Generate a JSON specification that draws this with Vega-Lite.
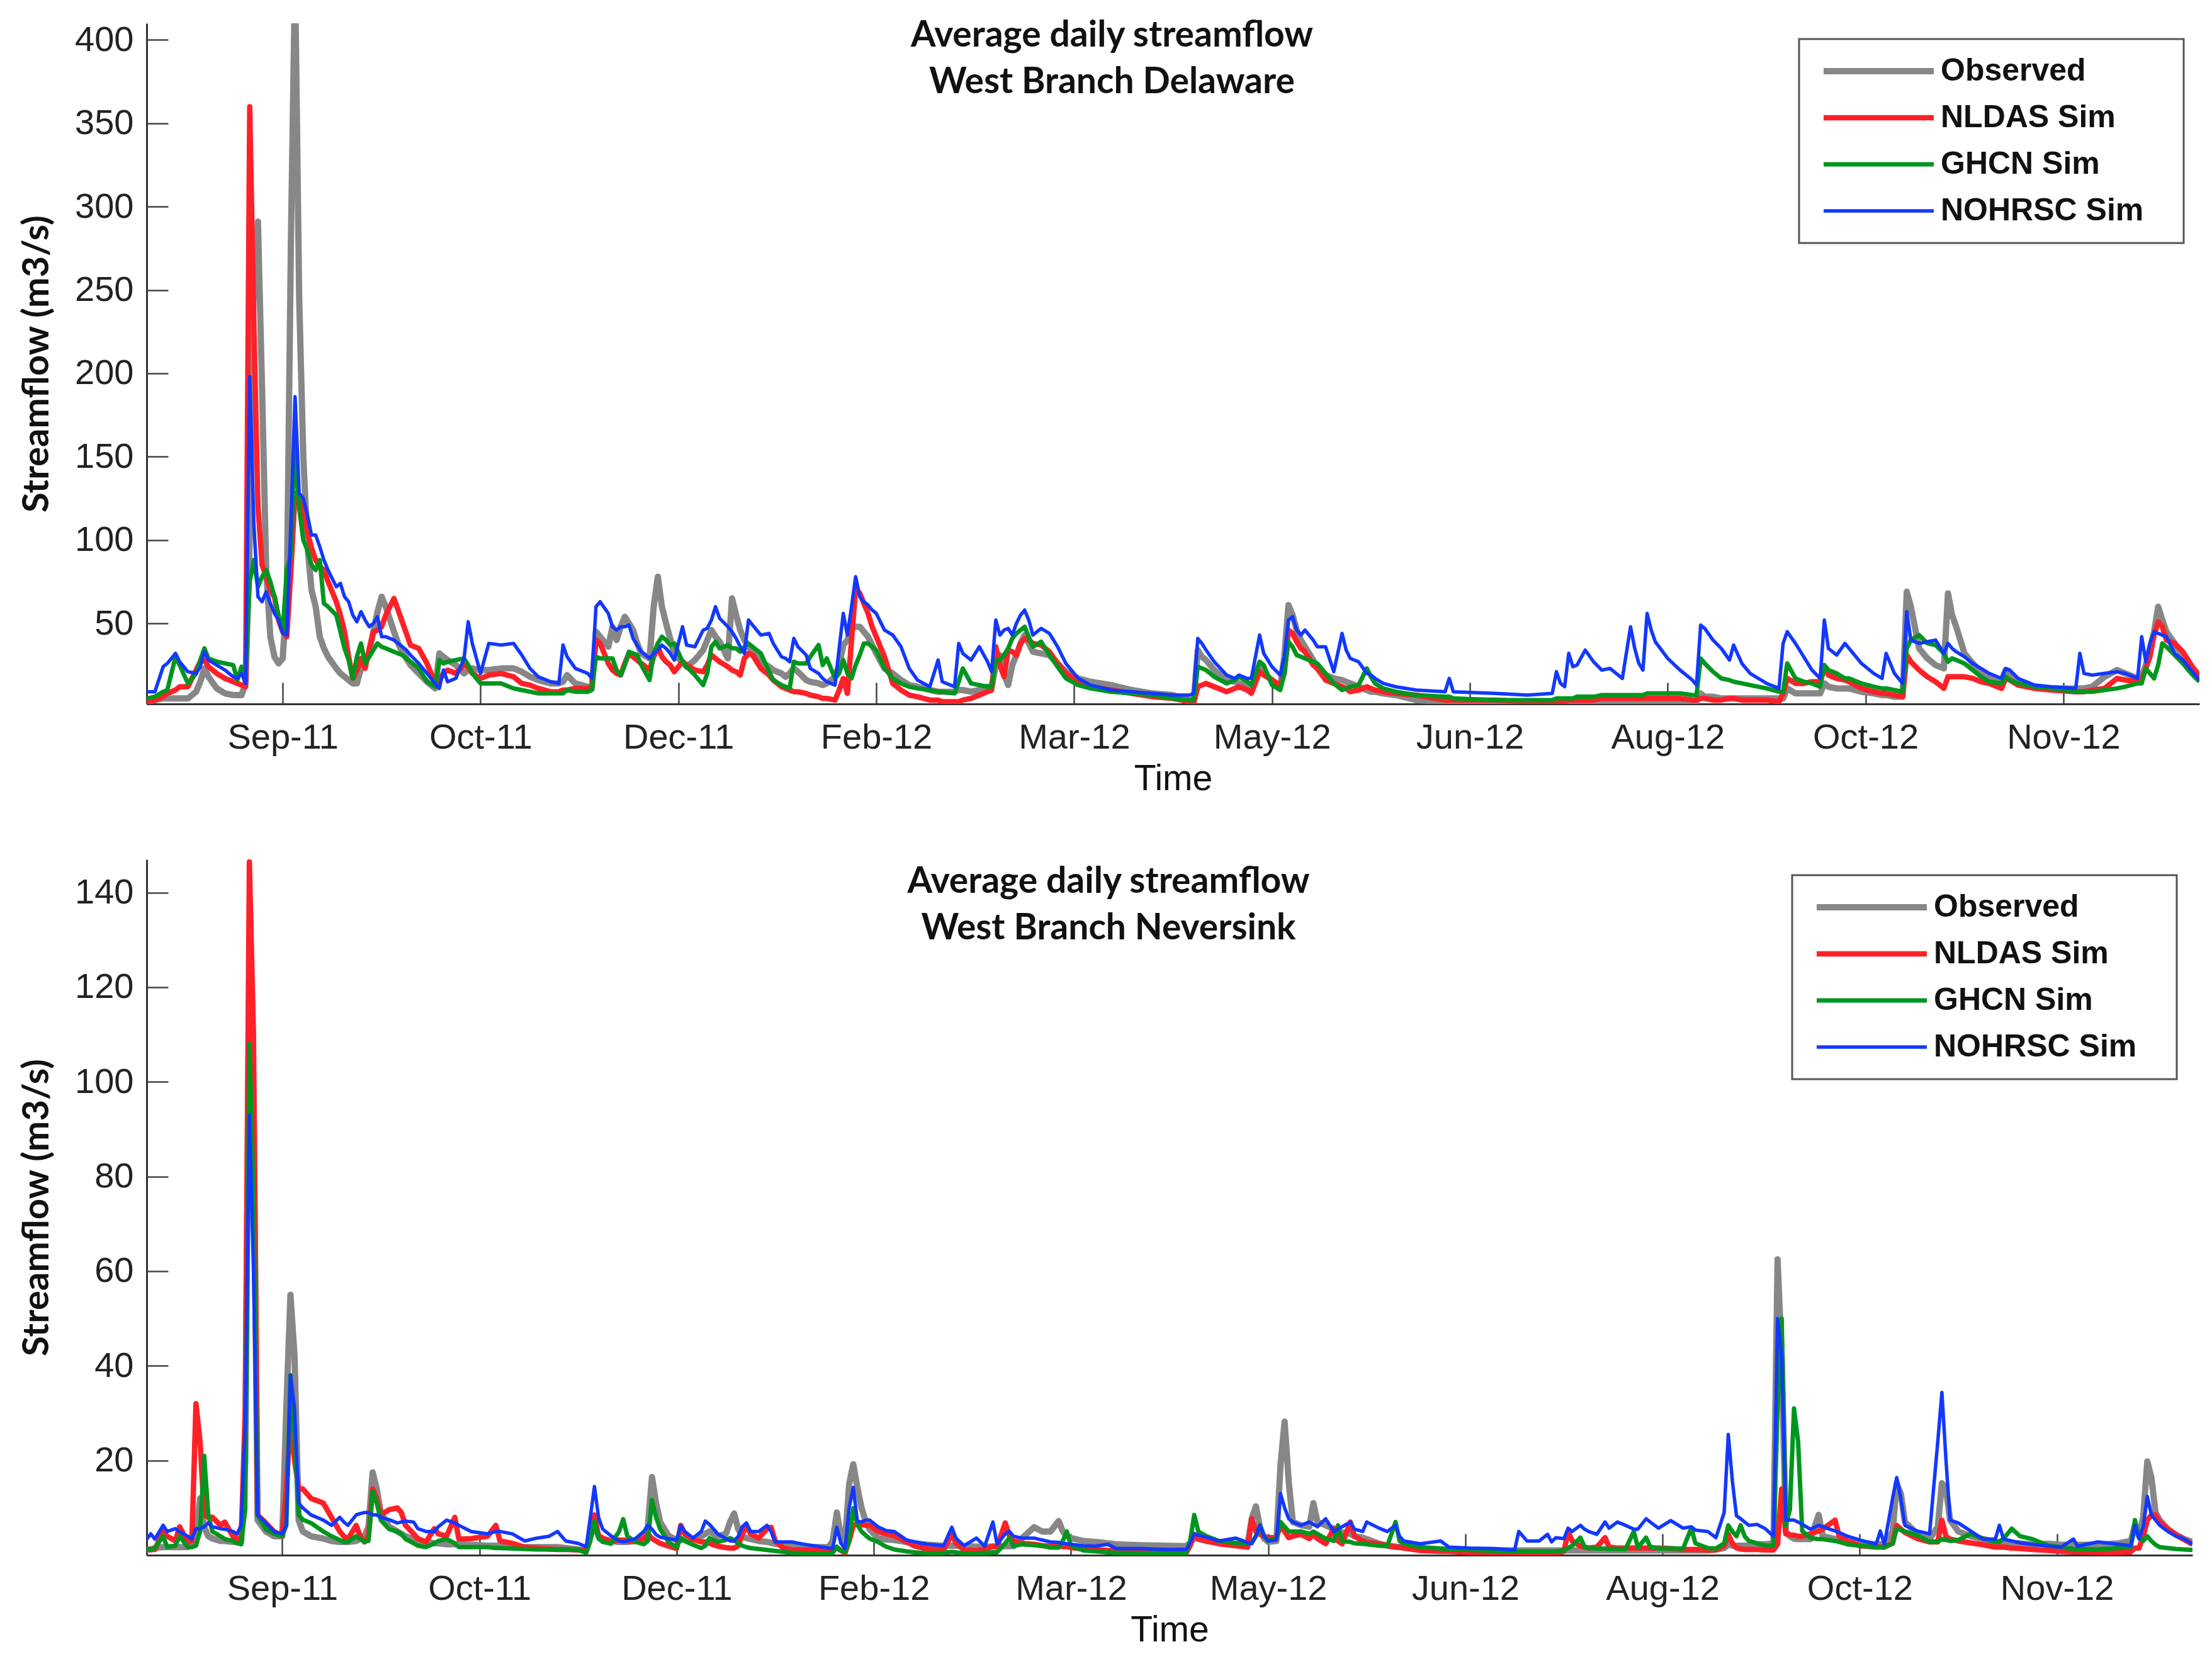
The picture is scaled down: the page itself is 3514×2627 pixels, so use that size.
{
"$schema":"https://vega.github.io/schema/vega-lite/v6.json",
"background":"white",
"padding":{"left":30,"top":28,"right":10,"bottom":5},
"spacing":100,
"config":{
 "view":{"stroke":null},
 "axis":{"grid":false,"domainColor":"#333","domainWidth":3,"tickColor":"#444","tickWidth":2.5,"tickSize":-34,"labelFont":"Liberation Sans","labelFontSize":56,"labelColor":"#222","titleColor":"#111","labelLimit":500},
 "legend":{"orient":"top-right","offset":25,"fillColor":"white","strokeColor":"#555","strokeWidth":3,"padding":26,"symbolOffset":8,"labelFont":"Liberation Sans","labelFontWeight":"bold","labelFontSize":50,"labelColor":"#111","symbolType":"stroke","symbolSize":30625,"symbolStrokeWidth":5.5,"rowPadding":24,"labelOffset":6,"clipHeight":50,"labelLimit":900},
 "title":{"font":"Lato","fontWeight":"bold","fontSize":57,"lineHeight":74,"color":"#111","anchor":"middle","frame":"group","baseline":"top","dx":-97},
 "line":{"clip":true,"strokeJoin":"round"}
},
"resolve":{"scale":{"color":"independent","strokeWidth":"independent","x":"independent","y":"independent"},"legend":{"color":"independent"}},
"datasets":{
"top":[
{"d":"2011-08-11","o":3,"n":3,"g":5,"h":9},
{"d":"2011-08-13","o":4,"n":4,"g":6,"h":9},
{"d":"2011-08-15","o":5,"n":6,"g":9,"h":24},
{"d":"2011-08-16","o":5,"n":8,"g":10,"h":26},
{"d":"2011-08-18","o":5,"n":10,"g":30,"h":32},
{"d":"2011-08-19","o":5,"n":12,"g":25,"h":27},
{"d":"2011-08-21","o":5,"n":12,"g":14,"h":21},
{"d":"2011-08-23","o":9,"n":22,"g":20,"h":20},
{"d":"2011-08-24","o":15,"n":27,"g":28,"h":24},
{"d":"2011-08-25","o":23,"n":28,"g":35,"h":33},
{"d":"2011-08-26","o":18,"n":24,"g":29,"h":28},
{"d":"2011-08-28","o":11,"n":20,"g":27,"h":25},
{"d":"2011-08-30","o":8,"n":17,"g":26,"h":22},
{"d":"2011-09-01","o":7,"n":15,"g":25,"h":18},
{"d":"2011-09-02","o":7,"n":14,"g":16,"h":17},
{"d":"2011-09-03","o":7,"n":13,"g":24,"h":20},
{"d":"2011-09-04","o":14,"n":12,"g":20,"h":14},
{"d":"2011-09-05","o":100,"n":360,"g":75,"h":198},
{"d":"2011-09-06","o":260,"n":230,"g":88,"h":110},
{"d":"2011-09-07","o":291,"n":120,"g":72,"h":66},
{"d":"2011-09-08","o":190,"n":85,"g":78,"h":63},
{"d":"2011-09-09","o":82,"n":78,"g":82,"h":69},
{"d":"2011-09-10","o":42,"n":70,"g":75,"h":62},
{"d":"2011-09-11","o":30,"n":66,"g":66,"h":56},
{"d":"2011-09-12","o":26,"n":52,"g":55,"h":52},
{"d":"2011-09-13","o":29,"n":45,"g":45,"h":44},
{"d":"2011-09-14","o":66,"n":42,"g":82,"h":43},
{"d":"2011-09-15","o":280,"n":82,"g":91,"h":110},
{"d":"2011-09-16","o":440,"n":128,"g":159,"h":186},
{"d":"2011-09-17","o":245,"n":125,"g":119,"h":128},
{"d":"2011-09-18","o":150,"n":118,"g":100,"h":125},
{"d":"2011-09-19","o":97,"n":105,"g":94,"h":115},
{"d":"2011-09-20","o":70,"n":95,"g":85,"h":103},
{"d":"2011-09-21","o":60,"n":88,"g":82,"h":103},
{"d":"2011-09-22","o":42,"n":84,"g":88,"h":96},
{"d":"2011-09-23","o":35,"n":82,"g":62,"h":88},
{"d":"2011-09-24","o":30,"n":75,"g":60,"h":82},
{"d":"2011-09-26","o":23,"n":63,"g":55,"h":72},
{"d":"2011-09-27","o":20,"n":55,"g":45,"h":74},
{"d":"2011-09-28","o":18,"n":45,"g":35,"h":66},
{"d":"2011-09-29","o":16,"n":30,"g":28,"h":63},
{"d":"2011-09-30","o":14,"n":17,"g":17,"h":55},
{"d":"2011-10-01","o":14,"n":22,"g":30,"h":51},
{"d":"2011-10-02","o":23,"n":29,"g":38,"h":57},
{"d":"2011-10-03","o":28,"n":23,"g":26,"h":52},
{"d":"2011-10-04","o":32,"n":35,"g":30,"h":48},
{"d":"2011-10-05","o":45,"n":45,"g":34,"h":50},
{"d":"2011-10-06","o":57,"n":46,"g":38,"h":54},
{"d":"2011-10-07","o":66,"n":48,"g":36,"h":42},
{"d":"2011-10-08","o":60,"n":55,"g":35,"h":42},
{"d":"2011-10-10","o":45,"n":65,"g":33,"h":40},
{"d":"2011-10-11","o":38,"n":58,"g":32,"h":38},
{"d":"2011-10-12","o":33,"n":51,"g":31,"h":36},
{"d":"2011-10-13","o":29,"n":44,"g":29,"h":34},
{"d":"2011-10-14","o":25,"n":37,"g":27,"h":31},
{"d":"2011-10-16","o":20,"n":35,"g":23,"h":26},
{"d":"2011-10-18","o":15,"n":26,"g":15,"h":20},
{"d":"2011-10-20","o":11,"n":14,"g":12,"h":14},
{"d":"2011-10-21","o":32,"n":16,"g":28,"h":11},
{"d":"2011-10-22","o":30,"n":20,"g":26,"h":22},
{"d":"2011-10-23","o":28,"n":22,"g":27,"h":15},
{"d":"2011-10-25","o":25,"n":20,"g":28,"h":17},
{"d":"2011-10-27","o":20,"n":25,"g":29,"h":29},
{"d":"2011-10-28","o":22,"n":24,"g":25,"h":51},
{"d":"2011-10-29","o":23,"n":20,"g":20,"h":38},
{"d":"2011-10-31","o":22,"n":17,"g":14,"h":20},
{"d":"2011-11-02","o":22,"n":19,"g":14,"h":38},
{"d":"2011-11-05","o":23,"n":20,"g":14,"h":37},
{"d":"2011-11-08","o":23,"n":18,"g":11,"h":38},
{"d":"2011-11-10","o":21,"n":14,"g":10,"h":31},
{"d":"2011-11-12","o":18,"n":13,"g":9,"h":23},
{"d":"2011-11-14","o":16,"n":11,"g":8,"h":18},
{"d":"2011-11-17","o":14,"n":9,"g":8,"h":15},
{"d":"2011-11-19","o":14,"n":9,"g":8,"h":14},
{"d":"2011-11-20","o":15,"n":10,"g":8,"h":37},
{"d":"2011-11-21","o":19,"n":10,"g":10,"h":30},
{"d":"2011-11-23","o":14,"n":11,"g":9,"h":23},
{"d":"2011-11-26","o":12,"n":11,"g":9,"h":20},
{"d":"2011-11-27","o":11,"n":12,"g":10,"h":17},
{"d":"2011-11-28","o":45,"n":40,"g":30,"h":60},
{"d":"2011-11-29","o":42,"n":38,"g":29,"h":63},
{"d":"2011-12-01","o":36,"n":26,"g":29,"h":56},
{"d":"2011-12-02","o":48,"n":22,"g":29,"h":48},
{"d":"2011-12-03","o":40,"n":20,"g":22,"h":46},
{"d":"2011-12-04","o":48,"n":19,"g":19,"h":48},
{"d":"2011-12-05","o":54,"n":26,"g":25,"h":48},
{"d":"2011-12-06","o":50,"n":32,"g":33,"h":49},
{"d":"2011-12-07","o":46,"n":30,"g":32,"h":41},
{"d":"2011-12-08","o":38,"n":28,"g":31,"h":37},
{"d":"2011-12-09","o":32,"n":26,"g":25,"h":33},
{"d":"2011-12-11","o":29,"n":22,"g":16,"h":29},
{"d":"2011-12-12","o":60,"n":30,"g":32,"h":32},
{"d":"2011-12-13","o":78,"n":36,"g":38,"h":34},
{"d":"2011-12-14","o":60,"n":30,"g":42,"h":37},
{"d":"2011-12-15","o":50,"n":27,"g":40,"h":35},
{"d":"2011-12-16","o":41,"n":25,"g":37,"h":32},
{"d":"2011-12-17","o":31,"n":21,"g":38,"h":28},
{"d":"2011-12-19","o":27,"n":27,"g":27,"h":48},
{"d":"2011-12-20","o":24,"n":25,"g":24,"h":37},
{"d":"2011-12-22","o":28,"n":22,"g":19,"h":36},
{"d":"2011-12-24","o":34,"n":21,"g":13,"h":46},
{"d":"2011-12-25","o":40,"n":25,"g":20,"h":47},
{"d":"2011-12-26","o":46,"n":31,"g":36,"h":52},
{"d":"2011-12-27","o":42,"n":29,"g":39,"h":60},
{"d":"2011-12-28","o":39,"n":27,"g":35,"h":53},
{"d":"2011-12-30","o":29,"n":24,"g":37,"h":48},
{"d":"2011-12-31","o":65,"n":22,"g":35,"h":45},
{"d":"2012-01-01","o":55,"n":21,"g":35,"h":41},
{"d":"2012-01-02","o":46,"n":19,"g":33,"h":36},
{"d":"2012-01-03","o":40,"n":29,"g":36,"h":32},
{"d":"2012-01-04","o":36,"n":32,"g":38,"h":52},
{"d":"2012-01-05","o":33,"n":31,"g":36,"h":49},
{"d":"2012-01-07","o":27,"n":23,"g":32,"h":43},
{"d":"2012-01-09","o":24,"n":19,"g":21,"h":44},
{"d":"2012-01-10","o":22,"n":16,"g":16,"h":38},
{"d":"2012-01-12","o":20,"n":12,"g":13,"h":30},
{"d":"2012-01-13","o":18,"n":11,"g":12,"h":29},
{"d":"2012-01-14","o":20,"n":10,"g":11,"h":27},
{"d":"2012-01-15","o":23,"n":9,"g":27,"h":41},
{"d":"2012-01-16","o":21,"n":9,"g":26,"h":36},
{"d":"2012-01-18","o":16,"n":8,"g":26,"h":31},
{"d":"2012-01-19","o":15,"n":7,"g":30,"h":23},
{"d":"2012-01-21","o":14,"n":6,"g":37,"h":20},
{"d":"2012-01-22","o":13,"n":5,"g":25,"h":17},
{"d":"2012-01-23","o":14,"n":5,"g":29,"h":15},
{"d":"2012-01-25","o":18,"n":4,"g":17,"h":13},
{"d":"2012-01-26","o":25,"n":10,"g":20,"h":35},
{"d":"2012-01-27","o":37,"n":17,"g":28,"h":56},
{"d":"2012-01-28","o":40,"n":8,"g":20,"h":43},
{"d":"2012-01-29","o":47,"n":40,"g":17,"h":60},
{"d":"2012-01-30","o":48,"n":71,"g":25,"h":78},
{"d":"2012-01-31","o":48,"n":68,"g":31,"h":66},
{"d":"2012-02-01","o":45,"n":62,"g":38,"h":63},
{"d":"2012-02-02","o":42,"n":56,"g":38,"h":61},
{"d":"2012-02-03","o":37,"n":48,"g":36,"h":58},
{"d":"2012-02-04","o":32,"n":42,"g":34,"h":56},
{"d":"2012-02-06","o":23,"n":30,"g":23,"h":46},
{"d":"2012-02-08","o":20,"n":14,"g":17,"h":43},
{"d":"2012-02-10","o":16,"n":10,"g":14,"h":36},
{"d":"2012-02-12","o":13,"n":7,"g":12,"h":23},
{"d":"2012-02-14","o":12,"n":6,"g":11,"h":16},
{"d":"2012-02-17","o":10,"n":4,"g":10,"h":12},
{"d":"2012-02-19","o":9,"n":4,"g":9,"h":28},
{"d":"2012-02-20","o":9,"n":3,"g":9,"h":15},
{"d":"2012-02-23","o":9,"n":3,"g":8,"h":12},
{"d":"2012-02-24","o":10,"n":3,"g":15,"h":38},
{"d":"2012-02-25","o":10,"n":4,"g":23,"h":32},
{"d":"2012-02-27","o":9,"n":5,"g":14,"h":28},
{"d":"2012-02-29","o":10,"n":7,"g":13,"h":36},
{"d":"2012-03-02","o":12,"n":9,"g":12,"h":27},
{"d":"2012-03-03","o":12,"n":10,"g":12,"h":21},
{"d":"2012-03-04","o":25,"n":36,"g":28,"h":52},
{"d":"2012-03-05","o":31,"n":25,"g":28,"h":43},
{"d":"2012-03-06","o":20,"n":18,"g":31,"h":46},
{"d":"2012-03-07","o":13,"n":34,"g":35,"h":47},
{"d":"2012-03-08","o":25,"n":33,"g":41,"h":43},
{"d":"2012-03-09","o":31,"n":31,"g":44,"h":50},
{"d":"2012-03-10","o":38,"n":38,"g":46,"h":55},
{"d":"2012-03-11","o":43,"n":41,"g":48,"h":58},
{"d":"2012-03-12","o":38,"n":40,"g":42,"h":52},
{"d":"2012-03-13","o":33,"n":38,"g":36,"h":43},
{"d":"2012-03-15","o":32,"n":37,"g":39,"h":47},
{"d":"2012-03-17","o":31,"n":33,"g":31,"h":44},
{"d":"2012-03-19","o":26,"n":26,"g":24,"h":36},
{"d":"2012-03-21","o":21,"n":20,"g":17,"h":26},
{"d":"2012-03-24","o":17,"n":15,"g":13,"h":17},
{"d":"2012-03-27","o":15,"n":12,"g":11,"h":13},
{"d":"2012-04-01","o":13,"n":10,"g":9,"h":10},
{"d":"2012-04-06","o":10,"n":8,"g":8,"h":9},
{"d":"2012-04-11","o":8,"n":6,"g":7,"h":8},
{"d":"2012-04-16","o":7,"n":5,"g":5,"h":7},
{"d":"2012-04-20","o":4,"n":3,"g":4,"h":7},
{"d":"2012-04-21","o":3,"n":2,"g":4,"h":8},
{"d":"2012-04-22","o":34,"n":12,"g":24,"h":41},
{"d":"2012-04-23","o":30,"n":13,"g":23,"h":38},
{"d":"2012-04-24","o":28,"n":14,"g":22,"h":34},
{"d":"2012-04-26","o":22,"n":12,"g":18,"h":27},
{"d":"2012-04-29","o":16,"n":9,"g":14,"h":19},
{"d":"2012-05-01","o":15,"n":11,"g":16,"h":17},
{"d":"2012-05-02","o":14,"n":12,"g":18,"h":19},
{"d":"2012-05-04","o":12,"n":10,"g":15,"h":17},
{"d":"2012-05-05","o":12,"n":8,"g":13,"h":17},
{"d":"2012-05-07","o":23,"n":21,"g":27,"h":43},
{"d":"2012-05-08","o":20,"n":19,"g":25,"h":32},
{"d":"2012-05-10","o":16,"n":16,"g":13,"h":24},
{"d":"2012-05-12","o":12,"n":13,"g":10,"h":19},
{"d":"2012-05-13","o":30,"n":20,"g":20,"h":30},
{"d":"2012-05-14","o":61,"n":46,"g":39,"h":52},
{"d":"2012-05-15","o":55,"n":44,"g":36,"h":54},
{"d":"2012-05-16","o":46,"n":39,"g":31,"h":46},
{"d":"2012-05-17","o":40,"n":35,"g":30,"h":43},
{"d":"2012-05-18","o":36,"n":33,"g":29,"h":46},
{"d":"2012-05-20","o":28,"n":25,"g":27,"h":40},
{"d":"2012-05-21","o":23,"n":23,"g":26,"h":36},
{"d":"2012-05-23","o":19,"n":16,"g":20,"h":36},
{"d":"2012-05-25","o":17,"n":14,"g":14,"h":21},
{"d":"2012-05-27","o":16,"n":12,"g":10,"h":44},
{"d":"2012-05-28","o":15,"n":11,"g":11,"h":34},
{"d":"2012-05-29","o":14,"n":9,"g":12,"h":29},
{"d":"2012-05-31","o":12,"n":10,"g":13,"h":27},
{"d":"2012-06-02","o":10,"n":12,"g":23,"h":20},
{"d":"2012-06-03","o":9,"n":11,"g":18,"h":19},
{"d":"2012-06-04","o":9,"n":10,"g":14,"h":17},
{"d":"2012-06-06","o":8,"n":9,"g":11,"h":14},
{"d":"2012-06-09","o":7,"n":8,"g":9,"h":12},
{"d":"2012-06-14","o":4,"n":7,"g":7,"h":10},
{"d":"2012-06-21","o":3,"n":4,"g":6,"h":9},
{"d":"2012-06-22","o":3,"n":4,"g":6,"h":17},
{"d":"2012-06-23","o":2,"n":4,"g":5,"h":9},
{"d":"2012-07-03","o":2,"n":4,"g":4,"h":8},
{"d":"2012-07-11","o":2,"n":3,"g":4,"h":7},
{"d":"2012-07-17","o":2,"n":3,"g":4,"h":8},
{"d":"2012-07-18","o":2,"n":3,"g":5,"h":21},
{"d":"2012-07-19","o":2,"n":3,"g":5,"h":14},
{"d":"2012-07-20","o":2,"n":3,"g":5,"h":12},
{"d":"2012-07-21","o":3,"n":4,"g":5,"h":32},
{"d":"2012-07-22","o":3,"n":4,"g":5,"h":24},
{"d":"2012-07-23","o":3,"n":4,"g":6,"h":25},
{"d":"2012-07-25","o":3,"n":4,"g":6,"h":34},
{"d":"2012-07-27","o":3,"n":4,"g":6,"h":27},
{"d":"2012-07-29","o":3,"n":5,"g":7,"h":22},
{"d":"2012-07-31","o":3,"n":5,"g":7,"h":23},
{"d":"2012-08-02","o":3,"n":5,"g":7,"h":19},
{"d":"2012-08-03","o":3,"n":5,"g":7,"h":17},
{"d":"2012-08-05","o":3,"n":5,"g":7,"h":48},
{"d":"2012-08-06","o":3,"n":5,"g":7,"h":35},
{"d":"2012-08-07","o":3,"n":5,"g":7,"h":26},
{"d":"2012-08-08","o":3,"n":5,"g":7,"h":22},
{"d":"2012-08-09","o":3,"n":5,"g":8,"h":56},
{"d":"2012-08-10","o":3,"n":5,"g":8,"h":46},
{"d":"2012-08-11","o":3,"n":5,"g":8,"h":39},
{"d":"2012-08-14","o":3,"n":5,"g":8,"h":29},
{"d":"2012-08-17","o":3,"n":5,"g":8,"h":22},
{"d":"2012-08-20","o":3,"n":4,"g":7,"h":16},
{"d":"2012-08-21","o":3,"n":4,"g":7,"h":13},
{"d":"2012-08-22","o":8,"n":5,"g":29,"h":49},
{"d":"2012-08-23","o":6,"n":5,"g":26,"h":47},
{"d":"2012-08-25","o":6,"n":4,"g":21,"h":40},
{"d":"2012-08-27","o":5,"n":4,"g":17,"h":35},
{"d":"2012-08-29","o":5,"n":5,"g":16,"h":28},
{"d":"2012-08-30","o":5,"n":5,"g":15,"h":37},
{"d":"2012-09-01","o":5,"n":4,"g":14,"h":26},
{"d":"2012-09-03","o":5,"n":4,"g":13,"h":20},
{"d":"2012-09-07","o":5,"n":4,"g":11,"h":14},
{"d":"2012-09-10","o":5,"n":3,"g":9,"h":11},
{"d":"2012-09-11","o":5,"n":8,"g":9,"h":38},
{"d":"2012-09-12","o":11,"n":17,"g":26,"h":45},
{"d":"2012-09-14","o":8,"n":14,"g":17,"h":38},
{"d":"2012-09-16","o":8,"n":14,"g":15,"h":30},
{"d":"2012-09-18","o":8,"n":15,"g":14,"h":22},
{"d":"2012-09-20","o":8,"n":15,"g":12,"h":17},
{"d":"2012-09-21","o":14,"n":23,"g":25,"h":52},
{"d":"2012-09-22","o":12,"n":19,"g":22,"h":35},
{"d":"2012-09-24","o":11,"n":17,"g":20,"h":31},
{"d":"2012-09-26","o":11,"n":16,"g":17,"h":38},
{"d":"2012-09-27","o":11,"n":15,"g":17,"h":35},
{"d":"2012-09-30","o":9,"n":11,"g":14,"h":26},
{"d":"2012-10-03","o":8,"n":9,"g":12,"h":20},
{"d":"2012-10-05","o":7,"n":8,"g":11,"h":17},
{"d":"2012-10-06","o":7,"n":8,"g":11,"h":32},
{"d":"2012-10-08","o":6,"n":7,"g":10,"h":20},
{"d":"2012-10-10","o":6,"n":6,"g":9,"h":14},
{"d":"2012-10-11","o":69,"n":31,"g":35,"h":57},
{"d":"2012-10-12","o":60,"n":27,"g":40,"h":40},
{"d":"2012-10-14","o":35,"n":22,"g":43,"h":38},
{"d":"2012-10-16","o":29,"n":18,"g":38,"h":39},
{"d":"2012-10-18","o":25,"n":15,"g":37,"h":40},
{"d":"2012-10-20","o":23,"n":11,"g":32,"h":32},
{"d":"2012-10-21","o":68,"n":18,"g":27,"h":38},
{"d":"2012-10-22","o":55,"n":18,"g":29,"h":35},
{"d":"2012-10-23","o":48,"n":18,"g":28,"h":33},
{"d":"2012-10-25","o":32,"n":18,"g":26,"h":30},
{"d":"2012-10-27","o":26,"n":17,"g":22,"h":26},
{"d":"2012-10-29","o":21,"n":15,"g":18,"h":23},
{"d":"2012-10-31","o":18,"n":14,"g":15,"h":20},
{"d":"2012-11-03","o":16,"n":11,"g":14,"h":17},
{"d":"2012-11-04","o":22,"n":17,"g":18,"h":23},
{"d":"2012-11-05","o":20,"n":16,"g":16,"h":22},
{"d":"2012-11-07","o":15,"n":13,"g":14,"h":17},
{"d":"2012-11-11","o":12,"n":11,"g":12,"h":13},
{"d":"2012-11-15","o":11,"n":10,"g":11,"h":12},
{"d":"2012-11-21","o":11,"n":9,"g":9,"h":11},
{"d":"2012-11-22","o":11,"n":9,"g":9,"h":32},
{"d":"2012-11-23","o":11,"n":9,"g":9,"h":20},
{"d":"2012-11-25","o":12,"n":10,"g":9,"h":19},
{"d":"2012-11-28","o":18,"n":11,"g":10,"h":20},
{"d":"2012-12-01","o":22,"n":17,"g":11,"h":21},
{"d":"2012-12-03","o":20,"n":16,"g":12,"h":20},
{"d":"2012-12-06","o":17,"n":15,"g":14,"h":17},
{"d":"2012-12-07","o":18,"n":16,"g":14,"h":42},
{"d":"2012-12-08","o":25,"n":23,"g":23,"h":27},
{"d":"2012-12-09","o":35,"n":30,"g":20,"h":38},
{"d":"2012-12-10","o":45,"n":43,"g":17,"h":45},
{"d":"2012-12-11","o":60,"n":51,"g":25,"h":44},
{"d":"2012-12-12","o":52,"n":48,"g":38,"h":43},
{"d":"2012-12-13","o":45,"n":40,"g":36,"h":42},
{"d":"2012-12-15","o":38,"n":38,"g":31,"h":32},
{"d":"2012-12-17","o":30,"n":33,"g":26,"h":28},
{"d":"2012-12-19","o":24,"n":25,"g":20,"h":22},
{"d":"2012-12-21","o":19,"n":18,"g":15,"h":16}
],
"bot":[
{"d":"2011-08-11","o":1.2,"n":1.2,"g":1.2,"h":3.4},
{"d":"2011-08-12","o":1.2,"n":1.2,"g":1.2,"h":4.5},
{"d":"2011-08-13","o":1.5,"n":1.2,"g":1.5,"h":3.4},
{"d":"2011-08-15","o":1.7,"n":5,"g":4,"h":6.3},
{"d":"2011-08-16","o":1.7,"n":4,"g":1.7,"h":5},
{"d":"2011-08-18","o":1.7,"n":3,"g":2,"h":5.6},
{"d":"2011-08-19","o":1.7,"n":6,"g":4,"h":5},
{"d":"2011-08-21","o":1.7,"n":2.8,"g":1.7,"h":4},
{"d":"2011-08-22","o":2.5,"n":3,"g":1.7,"h":3.4},
{"d":"2011-08-23","o":4,"n":32,"g":2,"h":5.6},
{"d":"2011-08-24","o":12,"n":24,"g":5,"h":5.6},
{"d":"2011-08-25","o":6,"n":8.5,"g":21,"h":6},
{"d":"2011-08-26","o":4,"n":8,"g":8.5,"h":6.8},
{"d":"2011-08-27","o":3.5,"n":8,"g":5,"h":6},
{"d":"2011-08-29","o":3,"n":6.3,"g":4,"h":5.6},
{"d":"2011-08-30","o":3,"n":7,"g":3.4,"h":5.5},
{"d":"2011-09-01","o":2.8,"n":4,"g":3,"h":5},
{"d":"2011-09-02","o":2.8,"n":3.5,"g":2.5,"h":4.5},
{"d":"2011-09-03","o":2.8,"n":3,"g":2.3,"h":6.3},
{"d":"2011-09-04","o":20,"n":31,"g":9.6,"h":28},
{"d":"2011-09-05","o":125,"n":146.5,"g":108,"h":93},
{"d":"2011-09-06","o":97,"n":110,"g":76,"h":60},
{"d":"2011-09-07","o":7.4,"n":8.5,"g":8.5,"h":8.5},
{"d":"2011-09-09","o":5,"n":6.8,"g":5.5,"h":6.8},
{"d":"2011-09-11","o":4,"n":5,"g":4.5,"h":5},
{"d":"2011-09-13","o":4,"n":4,"g":4,"h":4.5},
{"d":"2011-09-14","o":31,"n":14,"g":6.3,"h":6.3},
{"d":"2011-09-15","o":55,"n":29,"g":38,"h":38},
{"d":"2011-09-16","o":42,"n":20,"g":25,"h":31},
{"d":"2011-09-17","o":7.4,"n":14,"g":8.5,"h":11},
{"d":"2011-09-18","o":5,"n":14,"g":7.5,"h":10},
{"d":"2011-09-20","o":4,"n":12,"g":6.8,"h":8.5},
{"d":"2011-09-23","o":3.5,"n":11,"g":5,"h":7.4},
{"d":"2011-09-25","o":3,"n":8,"g":4,"h":6.3},
{"d":"2011-09-27","o":2.8,"n":5,"g":3.2,"h":8},
{"d":"2011-09-28","o":2.8,"n":4,"g":2.8,"h":7},
{"d":"2011-09-29","o":2.8,"n":3.4,"g":2.8,"h":6.3},
{"d":"2011-10-01","o":3,"n":6.3,"g":4,"h":8.5},
{"d":"2011-10-02","o":3.5,"n":4,"g":3.4,"h":8.8},
{"d":"2011-10-03","o":4,"n":2.8,"g":2.8,"h":9},
{"d":"2011-10-04","o":6,"n":4,"g":3,"h":9},
{"d":"2011-10-05","o":17.5,"n":14,"g":13.5,"h":8.5},
{"d":"2011-10-06","o":14,"n":12,"g":11,"h":8.5},
{"d":"2011-10-07","o":9,"n":8.5,"g":7.4,"h":8},
{"d":"2011-10-09","o":6,"n":9.6,"g":5.5,"h":7.5},
{"d":"2011-10-11","o":5,"n":10,"g":5,"h":6.8},
{"d":"2011-10-12","o":4.5,"n":9,"g":4.5,"h":7},
{"d":"2011-10-13","o":4,"n":6.3,"g":3.4,"h":7.2},
{"d":"2011-10-15","o":3.4,"n":4.5,"g":2.5,"h":7},
{"d":"2011-10-16","o":3,"n":3.5,"g":2,"h":5.6},
{"d":"2011-10-18","o":2.8,"n":2.8,"g":1.7,"h":5},
{"d":"2011-10-20","o":2.5,"n":5.6,"g":2.5,"h":5},
{"d":"2011-10-21","o":2.5,"n":4.5,"g":3,"h":6},
{"d":"2011-10-23","o":2.3,"n":4,"g":3.4,"h":7.4},
{"d":"2011-10-25","o":2.3,"n":8,"g":2.5,"h":6.8},
{"d":"2011-10-26","o":2.3,"n":3.4,"g":1.7,"h":6.3},
{"d":"2011-10-29","o":2.2,"n":3.5,"g":1.7,"h":5},
{"d":"2011-11-02","o":2,"n":4,"g":1.7,"h":4.5},
{"d":"2011-11-04","o":2,"n":6.3,"g":1.5,"h":5},
{"d":"2011-11-05","o":2,"n":3,"g":1.5,"h":5},
{"d":"2011-11-08","o":1.8,"n":2.5,"g":1.4,"h":4.5},
{"d":"2011-11-11","o":1.7,"n":1.7,"g":1.3,"h":3},
{"d":"2011-11-14","o":1.7,"n":1.5,"g":1.2,"h":3.6},
{"d":"2011-11-17","o":1.7,"n":1.3,"g":1.2,"h":4},
{"d":"2011-11-19","o":1.7,"n":1.2,"g":1.2,"h":5},
{"d":"2011-11-21","o":1.5,"n":1.2,"g":1.2,"h":3},
{"d":"2011-11-24","o":1.2,"n":1.1,"g":1.1,"h":2.5},
{"d":"2011-11-26","o":1,"n":1,"g":0.5,"h":1.8},
{"d":"2011-11-27","o":4,"n":4,"g":3,"h":8},
{"d":"2011-11-28","o":6.3,"n":8.5,"g":7.2,"h":14.5},
{"d":"2011-11-29","o":4,"n":4,"g":3.5,"h":8},
{"d":"2011-11-30","o":3.5,"n":3.6,"g":2.8,"h":5.5},
{"d":"2011-12-02","o":3,"n":2.8,"g":2.4,"h":4.1},
{"d":"2011-12-04","o":2.8,"n":3.2,"g":5,"h":3},
{"d":"2011-12-05","o":2.8,"n":3.2,"g":7.6,"h":2.8},
{"d":"2011-12-06","o":2.8,"n":3,"g":4,"h":3},
{"d":"2011-12-08","o":3,"n":2.9,"g":2.8,"h":3.5},
{"d":"2011-12-10","o":4,"n":3.5,"g":2.3,"h":5},
{"d":"2011-12-11","o":6,"n":4.5,"g":3,"h":6.3},
{"d":"2011-12-12","o":16.5,"n":3.5,"g":11.6,"h":5.5},
{"d":"2011-12-13","o":11,"n":3,"g":8,"h":4.3},
{"d":"2011-12-14","o":7,"n":2.5,"g":5.5,"h":3.8},
{"d":"2011-12-16","o":4.1,"n":1.9,"g":2.8,"h":3.5},
{"d":"2011-12-18","o":3.2,"n":1.4,"g":1.6,"h":3.2},
{"d":"2011-12-19","o":3.2,"n":6.3,"g":3.6,"h":6.3},
{"d":"2011-12-20","o":3.5,"n":4.5,"g":3,"h":5},
{"d":"2011-12-22","o":3.5,"n":3.3,"g":2.2,"h":3.6},
{"d":"2011-12-24","o":4,"n":2.8,"g":1.5,"h":5},
{"d":"2011-12-25","o":4.5,"n":2.8,"g":2,"h":7.2},
{"d":"2011-12-26","o":5,"n":2.5,"g":3.6,"h":6.5},
{"d":"2011-12-28","o":4,"n":1.9,"g":2.8,"h":4.5},
{"d":"2011-12-30","o":4.5,"n":1.6,"g":3.2,"h":3.5},
{"d":"2011-12-31","o":7,"n":1.5,"g":3.6,"h":3},
{"d":"2012-01-01","o":8.8,"n":1.5,"g":3.2,"h":3},
{"d":"2012-01-02","o":5.5,"n":2,"g":2.5,"h":4},
{"d":"2012-01-03","o":4,"n":4.5,"g":2,"h":6},
{"d":"2012-01-04","o":3.6,"n":6.3,"g":1.7,"h":6.8},
{"d":"2012-01-05","o":3.4,"n":4.5,"g":1.5,"h":5},
{"d":"2012-01-07","o":3,"n":3.6,"g":1.3,"h":5},
{"d":"2012-01-09","o":2.8,"n":5.6,"g":1.1,"h":6.3},
{"d":"2012-01-10","o":2.6,"n":5.9,"g":1,"h":5},
{"d":"2012-01-11","o":2.4,"n":3,"g":0.9,"h":2.8},
{"d":"2012-01-13","o":2.2,"n":1.5,"g":0.7,"h":2.8},
{"d":"2012-01-15","o":2,"n":1.1,"g":0.5,"h":2.8},
{"d":"2012-01-18","o":1.8,"n":1.1,"g":0.4,"h":2.3},
{"d":"2012-01-21","o":1.7,"n":1.1,"g":0.3,"h":1.9},
{"d":"2012-01-24","o":1.7,"n":1.1,"g":0.3,"h":1.5},
{"d":"2012-01-25","o":3,"n":1.2,"g":0.5,"h":1.4},
{"d":"2012-01-26","o":9,"n":1.5,"g":1.8,"h":5.9},
{"d":"2012-01-27","o":4,"n":1,"g":1,"h":2.5},
{"d":"2012-01-28","o":3,"n":0.5,"g":0.6,"h":1.4},
{"d":"2012-01-29","o":15,"n":3,"g":3,"h":10},
{"d":"2012-01-30","o":19.2,"n":6.3,"g":9.9,"h":14.3},
{"d":"2012-01-31","o":14.3,"n":6.5,"g":6.5,"h":7.2},
{"d":"2012-02-01","o":10,"n":6.4,"g":5,"h":7},
{"d":"2012-02-02","o":7.2,"n":6.3,"g":4.2,"h":7.4},
{"d":"2012-02-03","o":5.5,"n":6.3,"g":3.5,"h":7.4},
{"d":"2012-02-05","o":3.6,"n":5,"g":2.8,"h":6},
{"d":"2012-02-07","o":3.3,"n":4.5,"g":1.8,"h":5.2},
{"d":"2012-02-09","o":3.2,"n":4.1,"g":1.2,"h":5},
{"d":"2012-02-12","o":2.8,"n":2.8,"g":0.8,"h":3.2},
{"d":"2012-02-14","o":2.5,"n":1.9,"g":0.6,"h":2.8},
{"d":"2012-02-17","o":2.2,"n":1.3,"g":0.4,"h":2.3},
{"d":"2012-02-21","o":2,"n":1.1,"g":0.5,"h":2},
{"d":"2012-02-23","o":2,"n":4.5,"g":0.7,"h":5.9},
{"d":"2012-02-24","o":2,"n":2.5,"g":0.6,"h":3.6},
{"d":"2012-02-26","o":1.9,"n":1.1,"g":0.4,"h":2},
{"d":"2012-02-29","o":1.8,"n":1,"g":0.4,"h":3.6},
{"d":"2012-03-02","o":1.8,"n":1.2,"g":0.5,"h":1.9},
{"d":"2012-03-04","o":1.8,"n":1.9,"g":0.6,"h":7},
{"d":"2012-03-05","o":1.8,"n":1.7,"g":0.6,"h":2.3},
{"d":"2012-03-07","o":1.9,"n":6.8,"g":2.5,"h":4.5},
{"d":"2012-03-08","o":1.9,"n":4.1,"g":3.6,"h":5},
{"d":"2012-03-09","o":1.9,"n":3,"g":1.9,"h":4},
{"d":"2012-03-11","o":3.5,"n":2.5,"g":2.3,"h":3.6},
{"d":"2012-03-14","o":5.9,"n":2.3,"g":2.1,"h":3.6},
{"d":"2012-03-16","o":5,"n":2,"g":2,"h":3.2},
{"d":"2012-03-18","o":5,"n":1.9,"g":1.6,"h":2.8},
{"d":"2012-03-20","o":7.2,"n":1.9,"g":1.6,"h":2.7},
{"d":"2012-03-21","o":5,"n":1.8,"g":3,"h":2.5},
{"d":"2012-03-22","o":4.1,"n":1.8,"g":5,"h":2.4},
{"d":"2012-03-23","o":3.6,"n":1.6,"g":2,"h":2.3},
{"d":"2012-03-26","o":3,"n":1.3,"g":1,"h":2},
{"d":"2012-03-29","o":2.8,"n":1.1,"g":0.8,"h":1.9},
{"d":"2012-04-01","o":2.5,"n":1,"g":0.6,"h":2.3},
{"d":"2012-04-03","o":2.3,"n":1,"g":0.5,"h":1.4},
{"d":"2012-04-09","o":2.1,"n":0.8,"g":0.4,"h":1.4},
{"d":"2012-04-15","o":2,"n":0.5,"g":0.4,"h":1.2},
{"d":"2012-04-20","o":1.9,"n":0.4,"g":0.4,"h":1.2},
{"d":"2012-04-21","o":2.5,"n":2,"g":3,"h":2.5},
{"d":"2012-04-22","o":3.7,"n":4.4,"g":8.5,"h":4.5},
{"d":"2012-04-23","o":3.4,"n":3.5,"g":5,"h":4.2},
{"d":"2012-04-25","o":3,"n":3,"g":4,"h":3.8},
{"d":"2012-04-28","o":2.6,"n":2.4,"g":3,"h":3},
{"d":"2012-05-02","o":2.4,"n":2,"g":2.6,"h":3.6},
{"d":"2012-05-04","o":2.2,"n":1.8,"g":2.4,"h":3},
{"d":"2012-05-05","o":2.3,"n":1.7,"g":2.4,"h":2.6},
{"d":"2012-05-06","o":7.7,"n":7.7,"g":2.6,"h":2.4},
{"d":"2012-05-07","o":10.3,"n":5,"g":4,"h":4},
{"d":"2012-05-08","o":6,"n":4.4,"g":6.3,"h":6.3},
{"d":"2012-05-09","o":3.5,"n":4,"g":4,"h":4},
{"d":"2012-05-10","o":2.8,"n":3.7,"g":3,"h":3},
{"d":"2012-05-12","o":3,"n":3.7,"g":3.5,"h":3.2},
{"d":"2012-05-13","o":19,"n":6.3,"g":7,"h":13},
{"d":"2012-05-14","o":28.2,"n":5,"g":6,"h":10},
{"d":"2012-05-15","o":15.6,"n":3.7,"g":5,"h":7.7},
{"d":"2012-05-16","o":7,"n":4,"g":5,"h":7},
{"d":"2012-05-18","o":6.3,"n":4.4,"g":5,"h":6.3},
{"d":"2012-05-20","o":6,"n":3.5,"g":4.5,"h":7},
{"d":"2012-05-21","o":11,"n":4.4,"g":5,"h":6.5},
{"d":"2012-05-22","o":7,"n":3.5,"g":4.5,"h":6},
{"d":"2012-05-24","o":6.3,"n":2.4,"g":3.5,"h":7.7},
{"d":"2012-05-26","o":5.5,"n":5.7,"g":3,"h":5},
{"d":"2012-05-27","o":5,"n":3,"g":6.3,"h":5.5},
{"d":"2012-05-28","o":4.8,"n":2.4,"g":3,"h":6},
{"d":"2012-05-30","o":4.5,"n":7,"g":2.8,"h":7},
{"d":"2012-05-31","o":4,"n":4,"g":2.5,"h":5.5},
{"d":"2012-06-02","o":3.7,"n":3,"g":2.4,"h":5},
{"d":"2012-06-03","o":3.4,"n":2.7,"g":2.3,"h":7},
{"d":"2012-06-06","o":2.4,"n":2.4,"g":2,"h":5.7},
{"d":"2012-06-08","o":2,"n":2,"g":1.9,"h":5},
{"d":"2012-06-10","o":1.8,"n":1.7,"g":7,"h":6.3},
{"d":"2012-06-11","o":1.7,"n":1.7,"g":3,"h":4},
{"d":"2012-06-12","o":1.6,"n":1.5,"g":2.4,"h":3},
{"d":"2012-06-16","o":1.4,"n":1,"g":1.7,"h":2.4},
{"d":"2012-06-21","o":1.2,"n":0.8,"g":1.4,"h":3},
{"d":"2012-06-23","o":1.1,"n":0.8,"g":1.2,"h":1.7},
{"d":"2012-06-28","o":1,"n":0.6,"g":1.1,"h":1.5},
{"d":"2012-07-04","o":1,"n":0.5,"g":0.9,"h":1.4},
{"d":"2012-07-09","o":1,"n":0.4,"g":0.8,"h":1.1},
{"d":"2012-07-10","o":1,"n":0.4,"g":0.8,"h":5},
{"d":"2012-07-12","o":1,"n":0.4,"g":0.8,"h":3},
{"d":"2012-07-15","o":1,"n":0.4,"g":0.8,"h":3},
{"d":"2012-07-17","o":1,"n":0.5,"g":0.8,"h":4.4},
{"d":"2012-07-18","o":1,"n":0.5,"g":0.8,"h":2.8},
{"d":"2012-07-19","o":1,"n":0.5,"g":0.8,"h":3.7},
{"d":"2012-07-21","o":1,"n":0.8,"g":1,"h":3.5},
{"d":"2012-07-22","o":1,"n":5,"g":1.5,"h":5.7},
{"d":"2012-07-23","o":1,"n":3,"g":2,"h":5},
{"d":"2012-07-25","o":1,"n":1.9,"g":3.7,"h":6.3},
{"d":"2012-07-26","o":1,"n":1.7,"g":1.8,"h":5.5},
{"d":"2012-07-27","o":1,"n":1.5,"g":1.5,"h":5},
{"d":"2012-07-29","o":1,"n":1.7,"g":1.4,"h":4.4},
{"d":"2012-07-31","o":1,"n":3.7,"g":1.4,"h":7},
{"d":"2012-08-01","o":1,"n":1.7,"g":1.3,"h":5.7},
{"d":"2012-08-03","o":1,"n":1.5,"g":1.3,"h":7},
{"d":"2012-08-05","o":1,"n":1.5,"g":1.3,"h":6.3},
{"d":"2012-08-07","o":1,"n":1.5,"g":5,"h":5.5},
{"d":"2012-08-08","o":1,"n":1.5,"g":1.6,"h":5.5},
{"d":"2012-08-10","o":1,"n":1.5,"g":3.7,"h":7.7},
{"d":"2012-08-11","o":1,"n":1.5,"g":1.8,"h":7},
{"d":"2012-08-13","o":1,"n":1.5,"g":1.4,"h":5.7},
{"d":"2012-08-16","o":1,"n":1.4,"g":1.4,"h":7.3},
{"d":"2012-08-19","o":1,"n":1.2,"g":1.4,"h":5.7},
{"d":"2012-08-21","o":1,"n":1.2,"g":5.7,"h":6},
{"d":"2012-08-22","o":1,"n":1.2,"g":2.5,"h":5.3},
{"d":"2012-08-25","o":1,"n":1.1,"g":1.5,"h":5},
{"d":"2012-08-27","o":1.2,"n":1.1,"g":1.4,"h":3.7},
{"d":"2012-08-29","o":1.5,"n":2,"g":2.5,"h":9},
{"d":"2012-08-30","o":2.3,"n":4.4,"g":6.3,"h":25.5},
{"d":"2012-08-31","o":2,"n":2.5,"g":5,"h":15.6},
{"d":"2012-09-01","o":2,"n":1.5,"g":4,"h":8.3},
{"d":"2012-09-02","o":2,"n":1.3,"g":6.3,"h":7.7},
{"d":"2012-09-03","o":2,"n":1.2,"g":4,"h":7},
{"d":"2012-09-04","o":2,"n":1.2,"g":3,"h":6.3},
{"d":"2012-09-06","o":2.3,"n":1.2,"g":2.5,"h":6.5},
{"d":"2012-09-08","o":2.3,"n":1.1,"g":2,"h":5.6},
{"d":"2012-09-10","o":2.5,"n":1.1,"g":2,"h":4},
{"d":"2012-09-11","o":62.5,"n":2.3,"g":31,"h":50},
{"d":"2012-09-12","o":42,"n":14,"g":50,"h":42},
{"d":"2012-09-13","o":5,"n":4.5,"g":6.3,"h":7.4},
{"d":"2012-09-14","o":4,"n":4.3,"g":9.6,"h":7.4},
{"d":"2012-09-15","o":3.5,"n":4.2,"g":31,"h":7.4},
{"d":"2012-09-16","o":3.4,"n":4,"g":24,"h":7},
{"d":"2012-09-17","o":3.4,"n":4,"g":5.1,"h":6.5},
{"d":"2012-09-19","o":3.4,"n":4.5,"g":3.6,"h":5.5},
{"d":"2012-09-21","o":8.5,"n":5.1,"g":3.4,"h":6.3},
{"d":"2012-09-22","o":4,"n":5.5,"g":3.4,"h":6},
{"d":"2012-09-25","o":3.4,"n":7.4,"g":3,"h":5.1},
{"d":"2012-09-26","o":3,"n":4,"g":2.8,"h":4.8},
{"d":"2012-09-28","o":2.8,"n":3,"g":2.3,"h":4},
{"d":"2012-10-01","o":2.6,"n":2,"g":2,"h":3.2},
{"d":"2012-10-05","o":2.3,"n":1.7,"g":1.7,"h":2.3},
{"d":"2012-10-06","o":2.3,"n":1.7,"g":1.7,"h":5.1},
{"d":"2012-10-07","o":2.3,"n":1.7,"g":1.6,"h":2.3},
{"d":"2012-10-09","o":5,"n":2.5,"g":2.5,"h":12},
{"d":"2012-10-10","o":15.2,"n":6.3,"g":5.6,"h":16.4},
{"d":"2012-10-11","o":13,"n":5.5,"g":5.3,"h":12},
{"d":"2012-10-12","o":7,"n":4.8,"g":5,"h":6.3},
{"d":"2012-10-15","o":4.5,"n":3.5,"g":4.2,"h":5.1},
{"d":"2012-10-18","o":3.4,"n":2.8,"g":2.8,"h":4.5},
{"d":"2012-10-20","o":6,"n":2.8,"g":2.8,"h":24},
{"d":"2012-10-21","o":15.2,"n":7.4,"g":3.4,"h":34.4},
{"d":"2012-10-22","o":14,"n":4,"g":3.2,"h":20},
{"d":"2012-10-23","o":7.4,"n":3.4,"g":3,"h":7.4},
{"d":"2012-10-25","o":5,"n":3,"g":3.2,"h":6.8},
{"d":"2012-10-28","o":4,"n":2.6,"g":4.5,"h":5.1},
{"d":"2012-10-31","o":3.4,"n":2.2,"g":3.5,"h":3.4},
{"d":"2012-11-03","o":2.8,"n":1.7,"g":2.8,"h":3.4},
{"d":"2012-11-04","o":2.8,"n":1.7,"g":2.8,"h":6.3},
{"d":"2012-11-05","o":2.7,"n":1.7,"g":3.5,"h":3.4},
{"d":"2012-11-07","o":2.6,"n":1.5,"g":5.6,"h":3},
{"d":"2012-11-09","o":2.5,"n":1.4,"g":4,"h":2.6},
{"d":"2012-11-12","o":2.3,"n":1.2,"g":3.4,"h":2.3},
{"d":"2012-11-16","o":2.4,"n":1,"g":2,"h":1.9},
{"d":"2012-11-19","o":2.2,"n":0.8,"g":1.7,"h":1.7},
{"d":"2012-11-22","o":2.2,"n":0.7,"g":1.3,"h":3.4},
{"d":"2012-11-23","o":2.2,"n":0.7,"g":1.3,"h":1.9},
{"d":"2012-11-28","o":2.2,"n":0.6,"g":1.2,"h":2.8},
{"d":"2012-12-03","o":2.5,"n":0.6,"g":1.5,"h":2.3},
{"d":"2012-12-06","o":3,"n":0.7,"g":1.7,"h":2},
{"d":"2012-12-07","o":6.3,"n":1.5,"g":7.4,"h":6.3},
{"d":"2012-12-08","o":4,"n":1.5,"g":4,"h":3.4},
{"d":"2012-12-09","o":8,"n":4,"g":3,"h":6},
{"d":"2012-12-10","o":19.8,"n":7.4,"g":4,"h":12.4},
{"d":"2012-12-11","o":16.4,"n":8.5,"g":3,"h":8.5},
{"d":"2012-12-12","o":9,"n":8.5,"g":2.2,"h":7.4},
{"d":"2012-12-13","o":7.4,"n":7,"g":1.7,"h":6.3},
{"d":"2012-12-15","o":5.5,"n":5.5,"g":1.5,"h":5},
{"d":"2012-12-17","o":4.3,"n":4.3,"g":1.3,"h":4},
{"d":"2012-12-19","o":3.4,"n":3.3,"g":1.2,"h":3.4},
{"d":"2012-12-21","o":2.8,"n":2.3,"g":1.1,"h":2.3}
]},
"vconcat":[
{
 "width":3261,"height":1081,
 "data":{"name":"top"},
 "transform":[{"fold":["o","n","g","h"],"as":["s","v"]}],
 "title":{"text":["Average daily streamflow","West Branch Delaware"],"offset":-125},
 "mark":{"type":"line","clip":true,"strokeJoin":"round"},
 "encoding":{
  "x":{"field":"d","type":"temporal","scale":{"type":"utc","nice":false,"domain":[{"year":2011,"month":8,"date":11,"utc":true},{"year":2012,"month":12,"date":21,"utc":true}]},
   "axis":{"format":"%b-%y","labelPadding":60,"titlePadding":10,"title":"Time","titleFont":"Liberation Sans","titleFontWeight":"normal","titleFontSize":57,
    "values":[{"year":2011,"month":9,"date":13,"utc":true},{"year":2011,"month":10,"date":31,"utc":true},{"year":2011,"month":12,"date":18,"utc":true},{"year":2012,"month":2,"date":4,"utc":true},{"year":2012,"month":3,"date":23,"utc":true},{"year":2012,"month":5,"date":10,"utc":true},{"year":2012,"month":6,"date":27,"utc":true},{"year":2012,"month":8,"date":14,"utc":true},{"year":2012,"month":10,"date":1,"utc":true},{"year":2012,"month":11,"date":18,"utc":true}]}},
  "y":{"field":"v","type":"quantitative","scale":{"domain":[1.7,410],"nice":false,"zero":false},
   "axis":{"values":[50,100,150,200,250,300,350,400],"labelPadding":55,"titlePadding":30,"title":"Streamflow (m3/s)","titleFont":"Lato","titleFontWeight":"bold","titleFontSize":58}},
  "color":{"field":"s","type":"nominal","scale":{"domain":["o","n","g","h"],"range":["#878787","#ff2028","#00961e","#1238ff"]},
   "legend":{"title":null,"labelExpr":"(datum.value=='o'?'Observed':datum.value=='n'?'NLDAS Sim':datum.value=='g'?'GHCN Sim':'NOHRSC Sim')+'\u2800'",
    "encode":{"symbols":{"update":{"strokeWidth":{"signal":"datum.value=='o'?10:5.5"}}}}}},
  "strokeWidth":{"field":"s","type":"nominal","scale":{"domain":["o","n","g","h"],"range":[10,5.5,5.5,5.5]},"legend":null}
 }
},
{
 "width":3250,"height":1105,
 "data":{"name":"bot"},
 "transform":[{"fold":["o","n","g","h"],"as":["s","v"]}],
 "title":{"text":["Average daily streamflow","West Branch Neversink"],"offset":-139},
 "mark":{"type":"line","clip":true,"strokeJoin":"round"},
 "encoding":{
  "x":{"field":"d","type":"temporal","scale":{"type":"utc","nice":false,"domain":[{"year":2011,"month":8,"date":11,"utc":true},{"year":2012,"month":12,"date":21,"utc":true}]},
   "axis":{"format":"%b-%y","labelPadding":60,"titlePadding":10,"title":"Time","titleFont":"Liberation Sans","titleFontWeight":"normal","titleFontSize":57,
    "values":[{"year":2011,"month":9,"date":13,"utc":true},{"year":2011,"month":10,"date":31,"utc":true},{"year":2011,"month":12,"date":18,"utc":true},{"year":2012,"month":2,"date":4,"utc":true},{"year":2012,"month":3,"date":23,"utc":true},{"year":2012,"month":5,"date":10,"utc":true},{"year":2012,"month":6,"date":27,"utc":true},{"year":2012,"month":8,"date":14,"utc":true},{"year":2012,"month":10,"date":1,"utc":true},{"year":2012,"month":11,"date":18,"utc":true}]}},
  "y":{"field":"v","type":"quantitative","scale":{"domain":[0,147],"nice":false,"zero":false},
   "axis":{"values":[20,40,60,80,100,120,140],"labelPadding":55,"titlePadding":30,"title":"Streamflow (m3/s)","titleFont":"Lato","titleFontWeight":"bold","titleFontSize":58}},
  "color":{"field":"s","type":"nominal","scale":{"domain":["o","n","g","h"],"range":["#878787","#ff2028","#00961e","#1238ff"]},
   "legend":{"title":null,"labelExpr":"(datum.value=='o'?'Observed':datum.value=='n'?'NLDAS Sim':datum.value=='g'?'GHCN Sim':'NOHRSC Sim')+'\u2800'",
    "encode":{"symbols":{"update":{"strokeWidth":{"signal":"datum.value=='o'?10:5.5"}}}}}},
  "strokeWidth":{"field":"s","type":"nominal","scale":{"domain":["o","n","g","h"],"range":[10,5.5,5.5,5.5]},"legend":null}
 }
}
]
}
